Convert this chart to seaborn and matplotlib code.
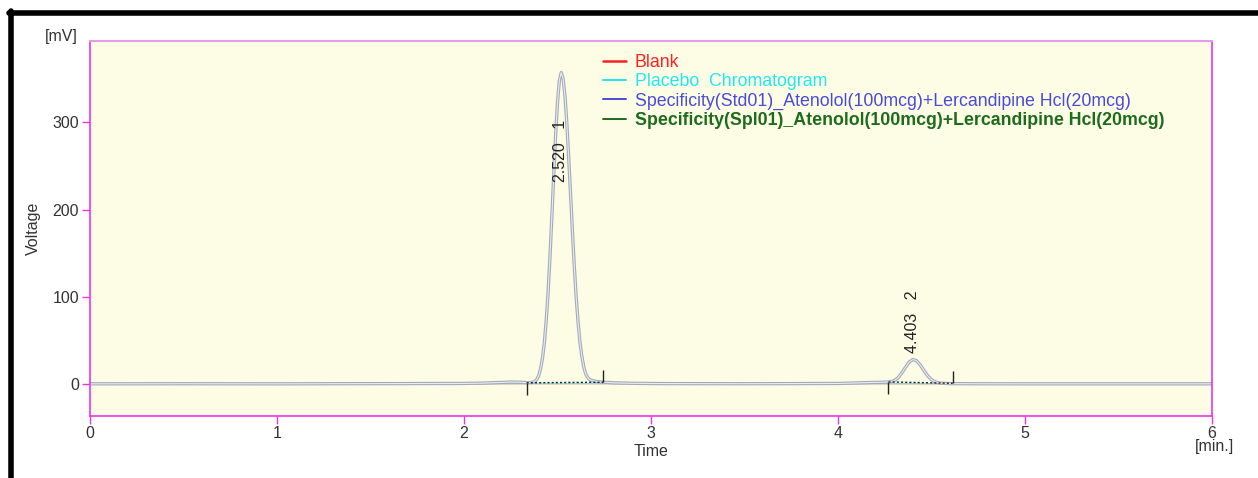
import numpy as np
import pandas as pd
import matplotlib
matplotlib.use("Agg")
import matplotlib.pyplot as plt
from matplotlib.lines import Line2D
import seaborn as sns

# -------------------------------
# Data
# -------------------------------
time_min = [0.0, 0.5, 1.0, 1.5, 2.0, 2.1, 2.2, 2.25, 2.3, 2.34,
            2.36, 2.37, 2.38, 2.39, 2.40, 2.41, 2.42, 2.43, 2.44, 2.45,
            2.46, 2.47, 2.48, 2.49, 2.50, 2.51, 2.52, 2.53, 2.54, 2.55,
            2.56, 2.57, 2.58, 2.59, 2.60, 2.61, 2.62, 2.63, 2.64, 2.65,
            2.66, 2.67, 2.68, 2.70, 2.72, 2.75, 2.80, 2.90, 3.0, 3.5,
            4.0, 4.1, 4.2, 4.24, 4.26, 4.28, 4.30, 4.32, 4.34, 4.36,
            4.38, 4.40, 4.42, 4.44, 4.46, 4.48, 4.50, 4.52, 4.54, 4.56,
            4.60, 4.70, 5.0, 5.5, 6.0]
std_mv = [0.2, 0.3, 0.2, 0.4, 0.6, 1.0, 1.8, 2.2, 2.0, 1.5,
          1.8, 2.2, 3.2, 5.5, 10, 18, 30, 48, 74, 106,
          147, 193, 240, 286, 323, 348, 357, 350, 330, 298,
          259, 217, 174, 134, 99, 71, 48, 32, 20, 12,
          8, 5.5, 4.2, 3.2, 2.6, 2.0, 1.3, 0.8, 0.5, 0.3,
          0.6, 1.2, 1.9, 2.0, 2.2, 2.6, 3.8, 6.8, 12.2, 18.8,
          25, 28, 26.6, 21.8, 15.3, 9.3, 4.9, 2.4, 1.2, 0.8,
          0.4, 0.3, 0.2, 0.2, 0.2]
spl_mv = std_mv

blank_time = [0.0, 1.0, 2.0, 3.0, 4.0, 5.0, 6.0]
blank_mv = [0.2, 0.3, 0.2, 0.4, 0.3, 0.2, 0.3]
placebo_mv = [0.3, 0.2, 0.5, 0.4, 0.3, 0.3, 0.2]

peak_rt = [2.520, 4.403]
peak_no = [1, 2]
label_mv = [232, 36]
base_start_t = [2.335, 4.270]
base_start_mv = [1.4, 2.4]
base_end_t = [2.745, 4.613]
base_end_mv = [2.0, 0.8]

legend_names = ["Blank", "Placebo  Chromatogram",
                "Specificity(Std01)_Atenolol(100mcg)+Lercandipine Hcl(20mcg)",
                "Specificity(Spl01)_Atenolol(100mcg)+Lercandipine Hcl(20mcg)"]
legend_colors = ["#ff2020", "#20e8f0", "#4a4ad8", "#1e6b1e"]

# -------------------------------
# Style
# -------------------------------
sns.set_style("white")
plt.rcParams["font.family"] = ["Liberation Sans", "DejaVu Sans"]
spine_col = "#ee33ee"
text_col = "#333333"

fig = plt.figure(figsize=(12.58, 4.78), dpi=100)
ax = fig.add_axes([90 / 1258, 1 - 416 / 478, (1212 - 90) / 1258, (416 - 41) / 478])
ax.set_facecolor("#fdfde6")

# -------------------------------
# Traces
# -------------------------------
sns.lineplot(x=blank_time, y=blank_mv, color="#e08080", lw=0.8, ax=ax)
sns.lineplot(x=blank_time, y=placebo_mv, color="#90d8dc", lw=0.8, ax=ax)
sns.lineplot(x=time_min, y=std_mv, color="#a3a9c0", lw=2.4, ax=ax)
sns.lineplot(x=time_min, y=spl_mv, color="#eceee6", lw=0.8, ax=ax)

# integration baselines and markers
for i in range(len(peak_rt)):
    ax.plot([base_start_t[i], base_end_t[i]], [base_start_mv[i], base_end_mv[i]],
            ls=(0, (1.5, 1.5)), color="#222222", lw=1.0)
    ax.vlines(base_start_t[i], base_start_mv[i] - 14, base_start_mv[i], color="#222222", lw=1.0)
    ax.vlines(base_end_t[i], base_end_mv[i], base_end_mv[i] + 14, color="#222222", lw=1.0)
    ax.text(peak_rt[i] - 0.005, label_mv[i], f"{peak_rt[i]:.3f}   {peak_no[i]}",
            rotation=90, ha="center", va="bottom", fontsize=11.5, color="#222222")

# -------------------------------
# Axes
# -------------------------------
ax.set_xlim(0, 6)
ax.set_ylim(-36.7, 393.2)
ax.set_xticks([0, 1, 2, 3, 4, 5, 6])
ax.set_yticks([0, 100, 200, 300])
ax.tick_params(axis="both", direction="out", length=6, width=1, color=spine_col,
               labelsize=11.5, labelcolor=text_col, pad=2, left=True, bottom=True)
ax.tick_params(axis="x", pad=1)
for side in ["left", "bottom", "right"]:
    ax.spines[side].set_color(spine_col)
    ax.spines[side].set_linewidth(1.2)
ax.spines["top"].set_color("#e89ae8")
ax.spines["top"].set_linewidth(1.5)

ax.set_xlabel("Time", fontsize=11.5, color=text_col, labelpad=2)
ax.set_ylabel("Voltage", fontsize=11.5, color=text_col, labelpad=8)
fig.text(61 / 1258, 1 - 37 / 478, "[mV]", ha="center", va="center", fontsize=11.5, color=text_col)
fig.text(1214 / 1258, 1 - 446 / 478, "[min.]", ha="center", va="center", fontsize=11.5, color=text_col)

handles = [Line2D([0], [0], color=c, lw=1.8 if k == 0 else 1.4) for k, c in enumerate(legend_colors)]
leg = ax.legend(handles, legend_names, loc="upper left", bbox_to_anchor=(0.4505, 0.985),
                frameon=False, fontsize=12.8, handlelength=1.3, handletextpad=0.5,
                labelspacing=0.13, borderaxespad=0)
for txt, c in zip(leg.get_texts(), legend_colors):
    txt.set_color(c)
leg.get_texts()[3].set_fontweight("bold")

# black frame on top and left of the figure
fig.add_artist(Line2D([9 / 1258, 1], [1 - 13 / 478, 1 - 13 / 478], color="black", lw=4, transform=fig.transFigure))
fig.add_artist(Line2D([11 / 1258, 11 / 1258], [0, 1 - 11 / 478], color="black", lw=4, transform=fig.transFigure))

fig.savefig("out.png", dpi=100)
plt.close(fig)
